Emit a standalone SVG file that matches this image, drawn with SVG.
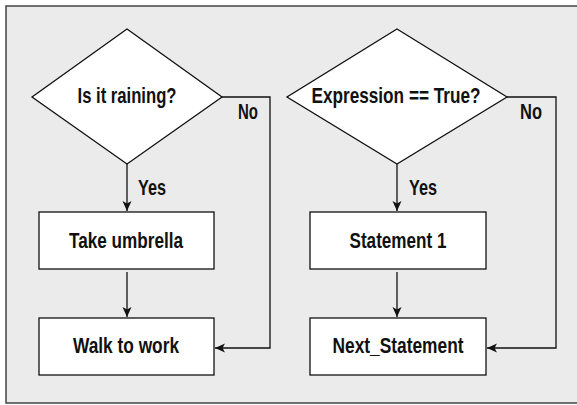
<svg xmlns="http://www.w3.org/2000/svg" width="577" height="405" viewBox="0 0 577 405">
<style>
.frame{fill:#ebebeb;stroke:none}
.frame-edge{fill:none;stroke:#444;stroke-width:1.5}
.shape{fill:#fff;stroke:#111;stroke-width:1.3}
.line{fill:none;stroke:#111;stroke-width:1.3}
text{font-family:"Liberation Sans",Arial,sans-serif;font-size:22px;fill:#111;text-anchor:middle;font-weight:bold}
</style>
<defs>
<marker id="ah" markerUnits="userSpaceOnUse" markerWidth="12" markerHeight="10" refX="10" refY="5" orient="auto">
<path d="M10,5 L0,0.5 L2.5,5 L0,9.5 Z" fill="#111"/>
</marker>
</defs>
<rect class="frame" x="6" y="6" width="571" height="397"/>
<path class="frame-edge" d="M577,6 H6 V403 H577"/>
<g id="connectors">
<line class="line" x1="127" y1="164" x2="127" y2="211" marker-end="url(#ah)"/>
<line class="line" x1="127" y1="272" x2="127" y2="317" marker-end="url(#ah)"/>
<polyline class="line" points="222,97 270,97 270,348 215,348" marker-end="url(#ah)"/>
<line class="line" x1="397" y1="164" x2="397" y2="211" marker-end="url(#ah)"/>
<line class="line" x1="397" y1="272" x2="397" y2="317" marker-end="url(#ah)"/>
<polyline class="line" points="507,97 556,97 556,348 487,348" marker-end="url(#ah)"/>
<text x="152" y="195" textLength="28" lengthAdjust="spacingAndGlyphs">Yes</text>
<text x="248" y="119" textLength="20" lengthAdjust="spacingAndGlyphs">No</text>
<text x="423" y="195" textLength="28" lengthAdjust="spacingAndGlyphs">Yes</text>
<text x="531" y="119" textLength="22" lengthAdjust="spacingAndGlyphs">No</text>
</g>
<g id="decision1">
<polygon class="shape" points="127,29 222,97 127,164 32,97"/>
<text x="127" y="103" textLength="99" lengthAdjust="spacingAndGlyphs">Is it raining?</text>
</g>
<g id="take-umbrella">
<rect class="shape" x="39" y="212" width="175" height="57"/>
<text x="126" y="248" textLength="114" lengthAdjust="spacingAndGlyphs">Take umbrella</text>
</g>
<g id="walk-to-work">
<rect class="shape" x="39" y="318" width="175" height="57"/>
<text x="126" y="353" textLength="106" lengthAdjust="spacingAndGlyphs">Walk to work</text>
</g>
<g id="decision2">
<polygon class="shape" points="397,29 507,97 397,164 287,97"/>
<text x="396" y="103" textLength="169" lengthAdjust="spacingAndGlyphs">Expression == True?</text>
</g>
<g id="statement1">
<rect class="shape" x="310" y="212" width="176" height="57"/>
<text x="398" y="248" textLength="97" lengthAdjust="spacingAndGlyphs">Statement 1</text>
</g>
<g id="next-statement">
<rect class="shape" x="310" y="318" width="176" height="57"/>
<text x="398" y="353" textLength="131" lengthAdjust="spacingAndGlyphs">Next_Statement</text>
</g>
</svg>
